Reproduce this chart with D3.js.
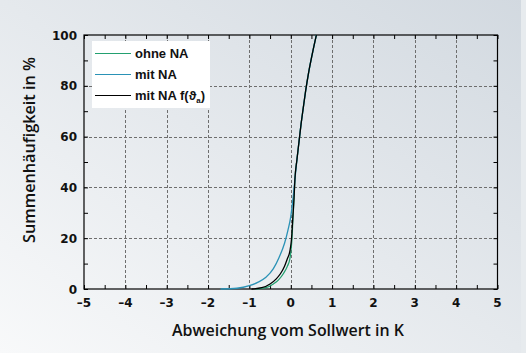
<!DOCTYPE html>
<html>
<head>
<meta charset="utf-8">
<script src="https://cdn.jsdelivr.net/npm/d3@7"></script>
<style>
  html, body { margin: 0; padding: 0; }
  #chart { width: 526px; height: 353px; }
</style>
</head>
<body>
<div id="chart"></div>
<script>
// Abweichung (K) vs. Summenhäufigkeit (%)
const ohneNA_x = [-0.85, -0.6, -0.42, -0.3, -0.18, -0.08, -0.02, 0.01, 0.03, 0.05, 0.08, 0.1, 0.15, 0.2, 0.25, 0.3, 0.36, 0.43, 0.52, 0.62];
const ohneNA_y = [0, 0.5, 2, 3.5, 6, 9, 12, 16, 20, 27, 36, 43, 51, 58, 65, 71, 78, 85, 92.5, 100];

const mitNA_x = [-1.7, -1.3, -1.0, -0.8, -0.6, -0.42, -0.28, -0.15, -0.07, 0.0, 0.05, 0.1, 0.15, 0.2, 0.25, 0.3, 0.36, 0.43, 0.52, 0.62];
const mitNA_y = [0, 0.3, 1.3, 2.6, 4.6, 8, 12.5, 18, 23, 28.5, 35, 43, 51, 58, 65, 71, 78, 85, 92.5, 100];

const mitNAf_x = [-0.95, -0.7, -0.5, -0.35, -0.25, -0.15, -0.08, -0.02, 0.02, 0.05, 0.08, 0.1, 0.15, 0.2, 0.25, 0.3, 0.36, 0.43, 0.52, 0.62];
const mitNAf_y = [0, 0.5, 2, 4, 6, 9, 12, 15, 20, 28, 36, 43, 51, 58, 65, 71, 78, 85, 92.5, 100];

const xTicks = [-5, -4, -3, -2, -1, 0, 1, 2, 3, 4, 5];
const yTicks = [0, 20, 40, 60, 80, 100];

const series = [
  { name: "ohne NA", xs: ohneNA_x, ys: ohneNA_y, color: "#23a070" },
  { name: "mit NA", xs: mitNA_x, ys: mitNA_y, color: "#2a92b6" },
  { name: "mit NA f(ϑ", sub: "a", xs: mitNAf_x, ys: mitNAf_y, color: "#000000" }
];

function init() {
  var w = 526, h = 353;
  var mLeft = 84, mRight = 497.5, mTop = 35, mBottom = 289;

  var svg = d3.select("#chart").append("svg")
    .attr("width", w)
    .attr("height", h);

  // background
  var defs = svg.append("defs");
  var grad = defs.append("linearGradient").attr("id", "bg")
    .attr("x1", 0).attr("y1", 1).attr("x2", 1).attr("y2", 0);
  grad.append("stop").attr("offset", "0%").attr("stop-color", "#f8f9fa");
  grad.append("stop").attr("offset", "100%").attr("stop-color", "#d2d9e0");
  svg.append("rect").attr("width", w).attr("height", h).attr("fill", "url(#bg)");
  svg.append("rect").attr("x", 521).attr("width", 5).attr("height", h).attr("fill", "#e7ebee");

  var x = d3.scaleLinear().domain([-5, 5]).range([mLeft, mRight]);
  var y = d3.scaleLinear().domain([0, 100]).range([mBottom, mTop]);

  // grid
  var grid = svg.append("g").attr("stroke", "#6e6e6e").attr("stroke-dasharray", "3,2").attr("stroke-width", 1);
  grid.selectAll(".gx").data(xTicks.slice(1, -1)).enter().append("line")
    .attr("x1", d => Math.round(x(d)) + 0.5).attr("x2", d => Math.round(x(d)) + 0.5)
    .attr("y1", mTop).attr("y2", mBottom);
  grid.selectAll(".gy").data(yTicks.slice(1, -1)).enter().append("line")
    .attr("y1", d => Math.round(y(d)) + 0.5).attr("y2", d => Math.round(y(d)) + 0.5)
    .attr("x1", mLeft).attr("x2", mRight);

  // axes with inward ticks
  var xMinor = d3.range(-5, 5.01, 0.5);
  var yMinor = d3.range(0, 100.1, 10);

  svg.append("g").attr("transform", `translate(0,${mBottom})`)
    .call(d3.axisTop(x).tickValues(xMinor).tickSize(4).tickFormat(""))
    .call(g => g.select(".domain").remove());
  svg.append("g").attr("transform", `translate(0,${mTop})`)
    .call(d3.axisBottom(x).tickValues(xMinor).tickSize(4).tickFormat(""))
    .call(g => g.select(".domain").remove());
  svg.append("g").attr("transform", `translate(${mLeft},0)`)
    .call(d3.axisRight(y).tickValues(yMinor).tickSize(4).tickFormat(""))
    .call(g => g.select(".domain").remove());
  svg.append("g").attr("transform", `translate(${mRight},0)`)
    .call(d3.axisLeft(y).tickValues(yMinor).tickSize(4).tickFormat(""))
    .call(g => g.select(".domain").remove());

  svg.append("rect")
    .attr("x", mLeft).attr("y", mTop)
    .attr("width", mRight - mLeft).attr("height", mBottom - mTop)
    .attr("fill", "none").attr("stroke", "#000").attr("stroke-width", 1.2);

  // tick labels
  var tickFont = "'DejaVu Sans', sans-serif";
  svg.append("g").selectAll("text").data(xTicks).enter().append("text")
    .attr("x", d => x(d)).attr("y", 307)
    .attr("text-anchor", "middle")
    .attr("font-family", tickFont).attr("font-weight", "bold").attr("font-size", 12)
    .attr("fill", "#111")
    .text(d => d < 0 ? "–" + Math.abs(d) : d);
  svg.append("g").selectAll("text").data(yTicks).enter().append("text")
    .attr("x", 77).attr("y", d => y(d) + 4.5)
    .attr("text-anchor", "end")
    .attr("font-family", tickFont).attr("font-weight", "bold").attr("font-size", 12)
    .attr("fill", "#111")
    .text(d => d);

  // curves
  var line = d3.line().x(d => x(d[0])).y(d => y(d[1])).curve(d3.curveMonotoneX);
  series.forEach(s => {
    var pts = s.xs.map((v, i) => [v, s.ys[i]]);
    svg.append("path").datum(pts)
      .attr("d", line)
      .attr("fill", "none")
      .attr("stroke", s.color)
      .attr("stroke-width", 1.3);
  });

  // legend
  var legend = svg.append("g");
  legend.append("rect").attr("x", 92).attr("y", 41).attr("width", 118).attr("height", 67).attr("fill", "#ffffff");
  series.forEach((s, i) => {
    var ly = 53.5 + i * 21;
    legend.append("line").attr("x1", 95).attr("x2", 131).attr("y1", ly).attr("y2", ly)
      .attr("stroke", s.color).attr("stroke-width", 1.2);
    var t = legend.append("text").attr("x", 135).attr("y", ly + 4.5)
      .attr("font-family", "'Liberation Sans', Arial, sans-serif").attr("font-weight", "bold").attr("font-size", 13)
      .attr("fill", "#111").text(s.name);
    if (s.sub) {
      t.append("tspan").attr("font-size", 8).attr("dy", 3).text(s.sub);
      t.append("tspan").attr("dy", -3).text(")");
    }
  });

  // axis titles
  svg.append("text")
    .attr("x", 288).attr("y", 336)
    .attr("text-anchor", "middle")
    .attr("font-family", "'Open Sans', sans-serif").attr("font-weight", 600).attr("font-size", 17)
    .attr("textLength", 232).attr("lengthAdjust", "spacingAndGlyphs")
    .attr("fill", "#111")
    .text("Abweichung vom Sollwert in K");

  svg.append("text")
    .attr("transform", "translate(35,150) rotate(-90)")
    .attr("text-anchor", "middle")
    .attr("font-family", "'Open Sans', sans-serif").attr("font-weight", 600).attr("font-size", 17)
    .attr("textLength", 186).attr("lengthAdjust", "spacingAndGlyphs")
    .attr("fill", "#111")
    .text("Summenhäufigkeit in %");
}

window.onload = init;
</script>
</body>
</html>
